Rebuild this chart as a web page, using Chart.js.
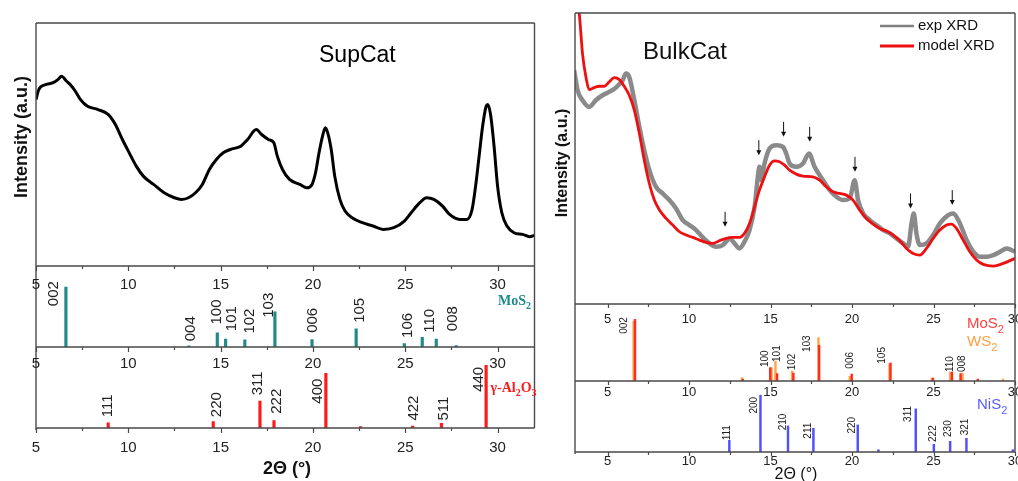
<!DOCTYPE html>
<html>
<head>
<meta charset="utf-8">
<title>SupCat / BulkCat XRD</title>
<script src="https://cdn.jsdelivr.net/npm/chart.js@4.4.1/dist/chart.umd.min.js"></script>
<style>
  body { margin: 0; background: #fff; }
  #wrap { position: relative; width: 1018px; height: 481px; overflow: hidden; }
  #wrap canvas { position: absolute; left: 0; top: 0; }
</style>
</head>
<body>
<div id="wrap">
  <canvas id="supTop" width="1018" height="481"></canvas>
  <canvas id="supMid" width="1018" height="481"></canvas>
  <canvas id="supBot" width="1018" height="481"></canvas>
  <canvas id="bulkTop" width="1018" height="481"></canvas>
  <canvas id="bulkMid" width="1018" height="481"></canvas>
  <canvas id="bulkBot" width="1018" height="481"></canvas>
</div>
<script>
// ---- SupCat measured pattern: 2theta (deg) / intensity (a.u.) ----
const supTheta = [5.00, 5.15, 5.53, 5.90, 6.19, 6.38, 6.66, 6.85, 7.13, 7.41, 7.79, 8.36, 8.92, 9.30, 9.68,
  10.05, 10.43, 10.81, 11.37, 11.94, 12.50, 12.88, 13.26, 13.64, 14.01, 14.39, 14.77, 15.14, 15.52, 16.09,
  16.46, 16.93, 17.22, 17.59, 17.88, 18.07, 18.35, 18.73, 19.29, 19.67, 19.95, 20.14, 20.33, 20.52, 20.67,
  20.80, 20.99, 21.18, 21.46, 21.74, 22.12, 22.68, 23.25, 23.82, 24.38, 24.95, 25.32, 25.70, 26.17, 26.55,
  27.02, 27.40, 27.96, 28.34, 28.62, 28.81, 29.00, 29.19, 29.38, 29.47, 29.62, 29.81, 30.00, 30.23, 30.51,
  30.89, 31.36, 31.73, 32.00];
const supInt = [500, 530, 545, 550, 560, 570, 555, 545, 525, 500, 480, 470, 455, 425, 380,
  340, 300, 270, 245, 220, 205, 200, 205, 220, 245, 290, 320, 340, 350, 360,
  380, 410, 395, 380, 370, 330, 290, 260, 245, 235, 245, 280, 340, 390, 415,
  400, 350, 270, 200, 165, 145, 130, 120, 110, 115, 135, 160, 185, 205, 200,
  180, 155, 140, 140, 170, 240, 330, 420, 480, 485, 455, 360, 240, 160, 120,
  100, 95, 88, 92];

// reference sticks under SupCat
const mosSupPos = [6.62, 13.28, 14.82, 15.27, 16.31, 17.94, 19.95, 22.34, 24.95, 25.92, 26.68, 27.76];
const mosSupInt = [100, 2, 23.5, 13.4, 11.8, 58.6, 12.3, 30.1, 5.6, 16.2, 13.4, 2.5];
const mosSupHkl = ['002', '004', '100', '101', '102', '103', '006', '105', '106', '110', '008'];
const mosSupHklAt = [[5.97, 68], [13.38, 9.5], [14.82, 37.5], [15.63, 26.4], [16.61, 22.4], [17.6, 48.8],
  [20.01, 23.6], [22.54, 40.3], [25.12, 15.1], [26.34, 23.6], [27.56, 26.4]];

const aloPos = [8.91, 14.60, 17.13, 17.89, 20.70, 22.58, 25.40, 26.96, 29.38];
const aloInt = [8.1, 10.2, 43, 11.8, 87, 2.4, 3.2, 7.5, 100];
const aloHkl = ['111', '220', '311', '222', '400', '422', '511', '440'];
const aloHklAt = [[8.91, 17.2], [14.79, 17.2], [17.04, 52.1], [18.02, 22.6], [20.29, 38.7],
  [25.49, 11.8], [27.09, 11.8], [28.98, 57.6]];

// ---- BulkCat: experimental and model patterns ----
const bulkExpTheta = [2.95, 3.16, 3.46, 3.87, 4.28, 4.69, 5.10, 5.51, 5.92, 6.13, 6.33, 6.64, 6.95, 7.25, 7.56,
  7.97, 8.38, 8.79, 9.20, 9.61, 10.02, 10.43, 10.84, 11.25, 11.66, 12.07, 12.27, 12.48, 12.79, 13.09,
  13.40, 13.71, 14.02, 14.22, 14.32, 14.43, 14.63, 14.94, 15.35, 15.76, 15.96, 16.17, 16.58, 16.99, 17.36,
  17.70, 18.22, 18.63, 19.04, 19.45, 19.86, 20.16, 20.37, 20.68, 21.09, 21.50, 21.91, 22.32, 22.73, 23.14,
  23.44, 23.65, 23.79, 23.95, 24.16, 24.57, 24.98, 25.39, 25.90, 26.21, 26.62, 27.03, 27.44, 27.85, 28.26,
  28.67, 29.08, 29.49, 30.00];
const bulkExpInt = [702, 642, 612, 592, 612, 627, 637, 650, 672, 692, 682, 612, 532, 462, 402,
  352, 332, 312, 287, 252, 237, 222, 200, 182, 172, 177, 187, 197, 182, 167,
  187, 222, 292, 382, 412, 372, 422, 467, 477, 472, 452, 422, 412, 422, 452,
  412, 372, 342, 322, 312, 317, 372, 312, 272, 252, 237, 222, 212, 197, 182,
  172, 242, 272, 212, 177, 182, 207, 242, 267, 272, 242, 192, 157, 142, 142,
  147, 157, 167, 157];

const bulkModelTheta = [3.10, 3.30, 3.46, 3.67, 3.87, 4.18, 4.49, 4.80, 5.10, 5.41, 5.72, 6.02, 6.33, 6.64, 6.95,
  7.25, 7.56, 7.87, 8.18, 8.59, 9.00, 9.41, 9.82, 10.23, 10.64, 11.05, 11.45, 11.86, 12.27, 12.68,
  13.09, 13.40, 13.71, 14.02, 14.32, 14.63, 14.94, 15.25, 15.55, 15.86, 16.17, 16.58, 16.99, 17.60, 18.01,
  18.42, 18.83, 19.24, 19.65, 20.06, 20.47, 20.88, 21.29, 21.70, 22.11, 22.52, 22.93, 23.34, 23.75, 24.16,
  24.57, 24.98, 25.39, 25.80, 26.11, 26.41, 26.82, 27.23, 27.64, 28.05, 28.67, 29.28, 30.00];
const bulkModelInt = [960, 852, 752, 682, 644, 650, 654, 654, 667, 680, 674, 654, 627, 582, 512,
  432, 362, 312, 282, 257, 237, 217, 207, 200, 192, 185, 182, 190, 197, 200,
  200, 212, 242, 292, 342, 382, 417, 430, 427, 417, 402, 390, 384, 382, 372,
  352, 337, 332, 327, 312, 282, 257, 240, 227, 219, 207, 190, 167, 152, 147,
  167, 197, 222, 237, 240, 227, 192, 157, 132, 119, 114, 122, 137];

// arrows marking extra reflections: [2theta, intensity at arrow tip]
const bulkArrows = [[12.21, 232], [14.28, 447], [15.80, 502], [17.40, 487], [20.18, 397], [23.59, 287], [26.15, 297]];

const mosBulkPos = [6.68, 13.29, 14.98, 15.40, 16.40, 17.98, 19.98, 22.36, 24.96, 26.13, 26.66, 27.72];
const mosBulkInt = [100, 3, 21.6, 12, 12.9, 57.8, 11.3, 29.2, 4.8, 14.5, 12, 3.2];
const ws2Pos = [6.60, 13.25, 15.06, 15.30, 16.32, 17.94, 19.86, 22.30, 24.90, 26.02, 26.78, 29.26];
const ws2Int = [97, 5.3, 21.6, 32.3, 16.2, 70.3, 7.6, 28, 4.8, 14.5, 12.9, 3.2];
const mosBulkHkl = ['002', '100', '101', '102', '103', '006', '105', '110', '008'];
const mosBulkHklAt = [[6.02, 76.7], [14.68, 22.6], [15.44, 30.9], [16.36, 17.3], [17.28, 47],
  [19.86, 20], [21.85, 28.1], [26.0, 14.5], [26.75, 14.5]];

const nisPos = [12.47, 14.38, 16.07, 17.63, 20.35, 21.62, 23.91, 25.02, 26.02, 27.02, 29.87];
const nisInt = [20.6, 100, 45.9, 41.8, 47.6, 4, 75.9, 13.5, 18.8, 24.1, 4];
const nisHkl = ['111', '200', '210', '211', '220', '311', '222', '230', '321'];
const nisHklAt = [[12.32, 20.6], [13.97, 67.7], [15.75, 38.2], [17.29, 23.5], [20.0, 32.4],
  [23.48, 53], [24.99, 17.7], [25.93, 26.5], [26.92, 29.4]];

const supTicks = [5, 10, 15, 20, 25, 30];
const bulkTicks = [5, 10, 15, 20, 25, 30];

const W = 1018, H = 481;
const SANS = '"Liberation Sans", Arial, sans-serif';
const SERIF = '"Liberation Serif", "Times New Roman", serif';

function pts(xs, ys) {
  return xs.map((x, i) => ({ x: x, y: ys[i] }));
}

// text with subscripts, parts = [[text, isSub], ...]
function chem(ctx, parts, x, y, font, size) {
  let cx = x;
  ctx.textAlign = 'left';
  ctx.textBaseline = 'alphabetic';
  for (const [t, sub] of parts) {
    ctx.font = font.replace('SZ', sub ? Math.round(size * 0.7) : size);
    ctx.fillText(t, cx, sub ? y + size * 0.3 : y);
    cx += ctx.measureText(t).width;
  }
}

function tickRow(ctx, x, yPix, from, to, major, minor) {
  for (let v = from; v <= to + 1e-6; v += 2.5) {
    const px = Math.round(x.getPixelForValue(v)) + 0.5;
    ctx.moveTo(px, yPix);
    ctx.lineTo(px, yPix + (v % 5 === 0 ? major : minor));
  }
}

function deco(o) {
  return {
    id: 'deco',
    afterDatasetsDraw(chart) {
      const { ctx, chartArea: a, scales: { x, y } } = chart;
      ctx.save();
      ctx.strokeStyle = '#4a4a4a';
      ctx.lineWidth = 1.4;
      ctx.beginPath();
      if (o.topLine) { ctx.moveTo(a.left, a.top); ctx.lineTo(a.right, a.top); }
      ctx.moveTo(a.left, a.top); ctx.lineTo(a.left, a.bottom + (o.outTicks ? 2 : 0));
      ctx.moveTo(a.right, a.top); ctx.lineTo(a.right, a.bottom);
      ctx.moveTo(a.left, a.bottom); ctx.lineTo(a.right, a.bottom);
      ctx.stroke();

      ctx.lineWidth = 1.2;
      ctx.beginPath();
      if (o.inTicks) tickRow(ctx, x, a.top, o.tickVals[0], x.max, o.tickLen[0], o.tickLen[1]);
      if (o.outTicks) tickRow(ctx, x, a.bottom, o.tickVals[0], x.max, o.tickLen[0], o.tickLen[1]);
      ctx.stroke();

      ctx.fillStyle = '#222';
      ctx.textAlign = 'center';
      ctx.textBaseline = 'middle';
      if (o.tickVals && o.rowIn != null) {
        ctx.font = o.tickFont;
        o.tickVals.forEach(t => ctx.fillText(String(t), x.getPixelForValue(t), a.top + o.rowIn));
      }
      if (o.tickVals && o.rowOut != null) {
        ctx.font = o.tickFont;
        o.tickVals.forEach(t => ctx.fillText(String(t), x.getPixelForValue(t), a.bottom + o.rowOut));
      }

      if (o.hkl) {
        ctx.font = o.hklFont;
        ctx.textAlign = 'left';
        ctx.textBaseline = 'middle';
        o.hkl.forEach((lab, i) => {
          const [lx, ly] = o.hklAt[i];
          ctx.save();
          ctx.translate(x.getPixelForValue(lx), y.getPixelForValue(ly));
          ctx.rotate(-Math.PI / 2);
          ctx.fillText(lab, 0, 0);
          ctx.restore();
        });
      }
      if (o.extra) o.extra(ctx, chart);
      ctx.restore();
    }
  };
}

function panel(id, box, xRange, yMax, type, datasets, plugin) {
  return new Chart(document.getElementById(id), {
    type: type,
    data: { datasets: datasets },
    options: {
      responsive: false,
      animation: false,
      events: [],
      devicePixelRatio: 1,
      layout: { padding: { left: box[0], top: box[1], right: W - box[2], bottom: H - box[3] } },
      plugins: { legend: { display: false }, tooltip: { enabled: false } },
      scales: {
        x: { type: 'linear', min: xRange[0], max: xRange[1], offset: false, display: false },
        y: { type: 'linear', min: 0, max: yMax, display: false }
      }
    },
    plugins: [plugin]
  });
}

function sticks(xs, ys, color, width) {
  return { data: pts(xs, ys), backgroundColor: color, borderWidth: 0, barThickness: width, grouped: false };
}

function curve(xs, ys, color, width) {
  return {
    data: pts(xs, ys), borderColor: color, borderWidth: width, pointRadius: 0,
    cubicInterpolationMode: 'monotone', fill: false, borderJoinStyle: 'round'
  };
}

function yTitle(ctx, text, cx, cy, font) {
  ctx.save();
  ctx.translate(cx, cy);
  ctx.rotate(-Math.PI / 2);
  ctx.font = font;
  ctx.fillStyle = '#111';
  ctx.textAlign = 'center';
  ctx.textBaseline = 'middle';
  ctx.fillText(text, 0, 0);
  ctx.restore();
}

// ---------------- left: SupCat ----------------
const L = [36, 534.5];
const supX = [5, 32];

panel('supTop', [L[0], 23, L[1], 266], supX, 730, 'line',
  [curve(supTheta, supInt, '#000', 3)],
  deco({
    topLine: true,
    extra(ctx) {
      ctx.fillStyle = '#000';
      ctx.font = '23px ' + SANS;
      ctx.textAlign = 'left';
      ctx.textBaseline = 'alphabetic';
      ctx.fillText('SupCat', 319, 62);
      yTitle(ctx, 'Intensity (a.u.)', 22, 137, 'bold 18px ' + SANS);
    }
  }));

panel('supMid', [L[0], 266, L[1], 347], supX, 135, 'bar',
  [sticks(mosSupPos, mosSupInt, '#1f8a88', 2.5)],
  deco({
    inTicks: true, tickLen: [5, 3], tickVals: supTicks, rowIn: 19, tickFont: '15px ' + SANS,
    hkl: mosSupHkl, hklAt: mosSupHklAt, hklFont: '15px ' + SANS,
    extra(ctx) {
      ctx.fillStyle = '#1f8a88';
      chem(ctx, [['MoS', false], ['2', true]], 498, 305, 'bold SZpx ' + SERIF, 14);
    }
  }));

panel('supBot', [L[0], 347, L[1], 428], supX, 129, 'bar',
  [sticks(aloPos, aloInt, '#ff1a1a', 2.5)],
  deco({
    inTicks: true, outTicks: true, tickLen: [5, 3], tickVals: supTicks, rowIn: 17, rowOut: 20,
    tickFont: '15px ' + SANS,
    hkl: aloHkl, hklAt: aloHklAt, hklFont: '15px ' + SANS,
    extra(ctx) {
      ctx.fillStyle = '#ff1a1a';
      chem(ctx, [['\u03b3-Al', false], ['2', true], ['O', false], ['3', true]], 490.5, 391.5, 'bold SZpx ' + SERIF, 14);
      ctx.fillStyle = '#111';
      ctx.font = 'bold 18px ' + SANS;
      ctx.textAlign = 'center';
      ctx.textBaseline = 'middle';
      ctx.fillText('2\u0398 (\u00b0)', 287, 469);
    }
  }));

// ---------------- right: BulkCat ----------------
const R = [575, 1015];
const bulkX = [3, 30];

panel('bulkTop', [R[0], 13, R[1], 304], bulkX, 874, 'line',
  [curve(bulkModelTheta, bulkModelInt, '#ee1010', 2.8),
   curve(bulkExpTheta, bulkExpInt, '#8a8a8a', 4.5)],
  deco({
    topLine: true,
    extra(ctx, chart) {
      const { x, y } = chart.scales;
      ctx.fillStyle = '#111';
      ctx.strokeStyle = '#111';
      ctx.lineWidth = 1;
      bulkArrows.forEach(([ax, ay]) => {
        const px = x.getPixelForValue(ax), py = y.getPixelForValue(ay);
        ctx.beginPath();
        ctx.moveTo(px, py - 15); ctx.lineTo(px, py - 4);
        ctx.stroke();
        ctx.beginPath();
        ctx.moveTo(px - 2.5, py - 5); ctx.lineTo(px + 2.5, py - 5); ctx.lineTo(px, py);
        ctx.closePath();
        ctx.fill();
      });

      ctx.font = '24px ' + SANS;
      ctx.textAlign = 'left';
      ctx.textBaseline = 'alphabetic';
      ctx.fillText('BulkCat', 643, 59);

      // legend
      ctx.lineWidth = 2.5;
      ctx.strokeStyle = '#808080';
      ctx.beginPath(); ctx.moveTo(880, 26); ctx.lineTo(914, 26); ctx.stroke();
      ctx.lineWidth = 3;
      ctx.strokeStyle = '#ee1010';
      ctx.beginPath(); ctx.moveTo(880, 46); ctx.lineTo(914, 46); ctx.stroke();
      ctx.font = '15px ' + SANS;
      ctx.textBaseline = 'middle';
      ctx.fillText('exp XRD', 918, 26);
      ctx.fillText('model XRD', 918, 46);

      yTitle(ctx, 'Intensity (a.u.)', 563, 163, 'bold 16px ' + SANS);
    }
  }));

panel('bulkMid', [R[0], 304, R[1], 381], bulkX, 125, 'bar',
  [sticks(mosBulkPos, mosBulkInt, '#ff2d1f', 1.8),
   sticks(ws2Pos, ws2Int, '#ffa54a', 1.8)],
  deco({
    inTicks: true, tickLen: [4, 3], tickVals: bulkTicks, rowIn: 15.5, tickFont: '13px ' + SANS,
    hkl: mosBulkHkl, hklAt: mosBulkHklAt, hklFont: '10px ' + SANS,
    extra(ctx) {
      ctx.fillStyle = '#ff4040';
      chem(ctx, [['MoS', false], ['2', true]], 967, 328, 'SZpx ' + SANS, 15);
      ctx.fillStyle = '#ffa040';
      chem(ctx, [['WS', false], ['2', true]], 967, 346, 'SZpx ' + SANS, 15);
    }
  }));

panel('bulkBot', [R[0], 381, R[1], 452], bulkX, 125, 'bar',
  [sticks(nisPos, nisInt, '#5050ff', 1.8)],
  deco({
    inTicks: true, outTicks: true, tickLen: [4, 3], tickVals: bulkTicks, rowIn: 11, rowOut: 9,
    tickFont: '13px ' + SANS,
    hkl: nisHkl, hklAt: nisHklAt, hklFont: '10px ' + SANS,
    extra(ctx) {
      ctx.fillStyle = '#5a5aff';
      chem(ctx, [['NiS', false], ['2', true]], 977, 409, 'SZpx ' + SANS, 15);
      ctx.fillStyle = '#111';
      ctx.font = '16px ' + SANS;
      ctx.textAlign = 'center';
      ctx.textBaseline = 'middle';
      ctx.fillText('2\u0398 (\u00b0)', 796, 475);
    }
  }));
</script>
</body>
</html>
